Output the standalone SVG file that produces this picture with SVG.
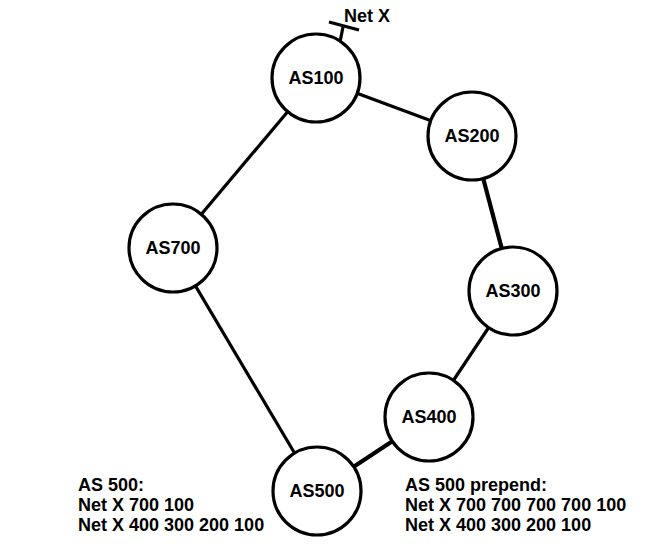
<svg xmlns="http://www.w3.org/2000/svg" width="652" height="549" viewBox="0 0 652 549">
<style>
.n circle{fill:#fff;stroke:#000;stroke-width:3.2}
text{font-family:"Liberation Sans",Arial,sans-serif;font-weight:bold;font-size:18px;fill:#000}
.n text{text-anchor:middle}
.c line{stroke:#000;stroke-width:3.2}
</style>
<rect width="652" height="549" fill="#fff"/>
<g class="c" id="connectors">
<line x1="316" y1="78" x2="472" y2="136"/>
<line x1="472" y1="136" x2="513" y2="291" style="stroke-width:4.2"/>
<line x1="513" y1="291" x2="429" y2="417"/>
<line x1="429" y1="417" x2="317" y2="491" style="stroke-width:4.2"/>
<line x1="317" y1="491" x2="173" y2="248"/>
<line x1="173" y1="248" x2="316" y2="78"/>
<line x1="340" y1="42" x2="343" y2="27"/>
<line x1="329" y1="22" x2="359" y2="30"/>
</g>
<text x="344" y="22">Net X</text>
<g class="n" id="as100"><circle cx="316" cy="78" r="44"/><text x="316" y="84">AS100</text></g>
<g class="n" id="as200"><circle cx="472" cy="136" r="44"/><text x="472" y="142">AS200</text></g>
<g class="n" id="as300"><circle cx="513" cy="291" r="44"/><text x="513" y="297">AS300</text></g>
<g class="n" id="as400"><circle cx="429" cy="417" r="44"/><text x="429" y="423">AS400</text></g>
<g class="n" id="as500"><circle cx="317" cy="491" r="44"/><text x="317" y="497">AS500</text></g>
<g class="n" id="as700"><circle cx="173" cy="248" r="44"/><text x="173" y="254">AS700</text></g>
<g id="note-left">
<text x="78" y="491">AS 500:</text>
<text x="78" y="511">Net X 700 100</text>
<text x="78" y="531">Net X 400 300 200 100</text>
</g>
<g id="note-right">
<text x="405" y="491">AS 500 prepend:</text>
<text x="405" y="511">Net X 700 700 700 700 100</text>
<text x="405" y="531">Net X 400 300 200 100</text>
</g>
</svg>
